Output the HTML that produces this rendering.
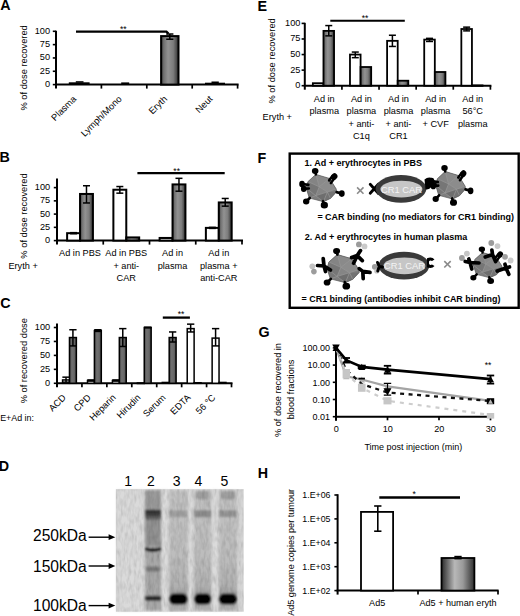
<!DOCTYPE html>
<html><head><meta charset="utf-8"><style>
html,body{margin:0;padding:0;background:#fff;}
svg{display:block;}
text{font-family:"Liberation Sans", sans-serif;}
</style></head><body>
<svg width="520" height="616" viewBox="0 0 520 616">
<defs>
<linearGradient id="cyl" x1="0" x2="1" y1="0" y2="0">
<stop offset="0" stop-color="#363636"/>
<stop offset="0.15" stop-color="#707070"/>
<stop offset="0.4" stop-color="#929292"/>
<stop offset="0.7" stop-color="#7c7c7c"/>
<stop offset="1" stop-color="#303030"/>
</linearGradient>
<linearGradient id="cyl2" x1="0" x2="1" y1="0" y2="0">
<stop offset="0" stop-color="#2a2a2a"/>
<stop offset="0.4" stop-color="#b8b8b8"/>
<stop offset="0.65" stop-color="#9a9a9a"/>
<stop offset="1" stop-color="#2f2f2f"/>
</linearGradient>
<g id="vbody">
<path d="M-5.8,-14.3 L7.6,-10.4 L14.1,-0.4 L14.5,2.2 L8.5,8.6 L1.6,11.7 L-12.3,8.2 L-15.3,-1.3 L-13.6,-7.4 Z" fill="#7e7e7e"/>
<path d="M-5.8,-14.3 L7.6,-10.4 L-2.5,-2.5 Z" fill="#8a8a8a"/>
<path d="M-13.6,-7.4 L-5.8,-14.3 L-2.5,-2.5 Z" fill="#848484"/>
<path d="M7.6,-10.4 L14.1,-0.4 L5.5,2.5 L-2.5,-2.5 Z" fill="#8c8c8c"/>
<path d="M-15.3,-1.3 L-13.6,-7.4 L-2.5,-2.5 L-6,6 L-12.3,8.2 Z" fill="#767676"/>
<path d="M-2.5,-2.5 L5.5,2.5 L-6,6 Z" fill="#858585"/>
<path d="M-6,6 L5.5,2.5 L1.6,11.7 Z" fill="#6e6e6e"/>
<path d="M5.5,2.5 L14.5,2.2 L8.5,8.6 L1.6,11.7 Z" fill="#737373"/>
<path d="M-5.8,-14.3 L-2.5,-2.5 L7.6,-10.4 M-13.6,-7.4 L-2.5,-2.5 L5.5,2.5 L14.1,-0.4 M-2.5,-2.5 L-6,6 L-12.3,8.2 M-6,6 L1.6,11.7 L5.5,2.5 L8.5,8.6 M-6,6 L5.5,2.5 M-15.3,-1.3 L-6,6" stroke="#9a9a9a" stroke-width="0.6" fill="none"/>
<path d="M-5.8,-14.3 L7.6,-10.4 L14.1,-0.4 L14.5,2.2 L8.5,8.6 L1.6,11.7 L-12.3,8.2 L-15.3,-1.3 L-13.6,-7.4 Z" fill="none" stroke="#5e5e5e" stroke-width="0.7"/>
</g>
<g id="knobs" stroke="#000" stroke-width="2.5" stroke-linecap="round" fill="#000">
<g id="k_top"><path d="M-5.8,-14.3 L-6.5,-17.3"/><ellipse cx="-6.5" cy="-17.6" rx="2.0" ry="1.6"/></g>
<g id="k_ur"><path d="M8.9,-6.1 L12.8,-11.4"/><path d="M7.2,-8.6 L10.4,-12.6"/><ellipse cx="12.2" cy="-12.2" rx="2.1" ry="1.7" transform="rotate(-50 12.2 -12.2)"/></g>
<g id="k_l1"><path d="M-13.1,-4.3 L-19.0,-5.2"/><ellipse cx="-19.4" cy="-5.2" rx="1.5" ry="1.9"/></g>
<g id="k_l2"><path d="M-12.7,-0.9 L-17.3,-0.6"/><ellipse cx="-17.7" cy="-0.6" rx="1.5" ry="1.9"/></g>
<g id="k_r"><path d="M14.5,2.6 L19.2,3.9"/><ellipse cx="19.6" cy="4.0" rx="1.6" ry="1.9"/></g>
<g id="k_bl"><path d="M-11.8,8.2 L-15.0,11.3"/><ellipse cx="-15.3" cy="11.6" rx="1.9" ry="1.6"/></g>
<g id="k_b"><path d="M1.1,11.2 L2.3,14.6"/><ellipse cx="2.5" cy="15.0" rx="2.3" ry="1.9"/></g>
</g>
<g id="vir"><use href="#vbody"/><g stroke="#000" stroke-width="2.5" stroke-linecap="round" fill="#000"><use href="#k_top"/><use href="#k_ur"/><use href="#k_l1"/><use href="#k_l2"/><use href="#k_r"/><use href="#k_bl"/><use href="#k_b"/></g></g>
<g id="vir3"><use href="#vbody"/><g stroke="#000" stroke-width="2.5" stroke-linecap="round" fill="#000"><use href="#k_top"/><use href="#k_bl"/><use href="#k_b"/></g></g>
<g id="vir4"><use href="#vbody"/><g stroke="#000" stroke-width="2.5" stroke-linecap="round" fill="#000"><use href="#k_top"/><use href="#k_ur"/><use href="#k_bl"/><use href="#k_b"/></g></g>
<linearGradient id="cyl3" x1="0" x2="1" y1="0" y2="0">
<stop offset="0" stop-color="#444"/>
<stop offset="0.35" stop-color="#707070"/>
<stop offset="0.7" stop-color="#666"/>
<stop offset="1" stop-color="#444"/>
</linearGradient>
<filter id="blur1" x="-20%" y="-20%" width="140%" height="140%"><feGaussianBlur stdDeviation="1.1"/></filter>
<filter id="noise" x="0" y="0" width="100%" height="100%"><feTurbulence type="fractalNoise" baseFrequency="0.35 0.12" numOctaves="2" seed="3"/><feColorMatrix type="matrix" values="0 0 0 0 0  0 0 0 0 0  0 0 0 0 0  0.9 0.9 0.9 0 -1.1"/><feComposite in2="SourceGraphic" operator="in"/></filter>
<filter id="blur2" x="-20%" y="-5%" width="140%" height="110%"><feGaussianBlur stdDeviation="1.8"/></filter>
<linearGradient id="band2" x1="0" x2="0" y1="0" y2="1"><stop offset="0" stop-color="#2e2e2e"/><stop offset="0.45" stop-color="#3c3c3c"/><stop offset="1" stop-color="#7a7a7a"/></linearGradient>
<linearGradient id="smear" x1="0" x2="0" y1="0" y2="1"><stop offset="0" stop-color="#c2c2c2"/><stop offset="0.55" stop-color="#bdbdbd"/><stop offset="0.8" stop-color="#b0b0b0"/><stop offset="0.86" stop-color="#a0a0a0"/><stop offset="1" stop-color="#b4b4b4"/></linearGradient>
</defs>
<rect width="520" height="616" fill="#fff"/>
<text x="0.30" y="10.00" font-size="14.3" text-anchor="start" fill="#000" font-weight="bold">A</text>
<text x="27.10" y="67.90" font-size="9.3" text-anchor="middle" fill="#000" transform="rotate(-90 27.10 67.90)">% of dose recovered</text>
<line x1="52.80" y1="84.60" x2="56.00" y2="84.60" stroke="#000" stroke-width="1.6"/>
<text x="50.00" y="87.00" font-size="9.2" text-anchor="end" fill="#000">0</text>
<line x1="52.80" y1="71.27" x2="56.00" y2="71.27" stroke="#000" stroke-width="1.6"/>
<text x="50.00" y="73.67" font-size="9.2" text-anchor="end" fill="#000">25</text>
<line x1="52.80" y1="57.95" x2="56.00" y2="57.95" stroke="#000" stroke-width="1.6"/>
<text x="50.00" y="60.35" font-size="9.2" text-anchor="end" fill="#000">50</text>
<line x1="52.80" y1="44.62" x2="56.00" y2="44.62" stroke="#000" stroke-width="1.6"/>
<text x="50.00" y="47.02" font-size="9.2" text-anchor="end" fill="#000">75</text>
<line x1="52.80" y1="31.30" x2="56.00" y2="31.30" stroke="#000" stroke-width="1.6"/>
<text x="50.00" y="33.70" font-size="9.2" text-anchor="end" fill="#000">100</text>
<line x1="56.00" y1="30.70" x2="56.00" y2="88.60" stroke="#000" stroke-width="2"/>
<line x1="55.00" y1="84.60" x2="238.60" y2="84.60" stroke="#000" stroke-width="2"/>
<line x1="101.40" y1="84.60" x2="101.40" y2="88.60" stroke="#000" stroke-width="1.7"/>
<line x1="146.80" y1="84.60" x2="146.80" y2="88.60" stroke="#000" stroke-width="1.7"/>
<line x1="192.20" y1="84.60" x2="192.20" y2="88.60" stroke="#000" stroke-width="1.7"/>
<line x1="237.60" y1="84.60" x2="237.60" y2="88.60" stroke="#000" stroke-width="1.7"/>
<rect x="68.80" y="82.30" width="20.80" height="2.30" fill="#000" stroke="none" stroke-width="1"/>
<rect x="75.80" y="81.20" width="7.70" height="1.50" fill="#000" stroke="none" stroke-width="1"/>
<text x="77.00" y="99.50" font-size="9.3" text-anchor="end" fill="#000" transform="rotate(-45 77.00 99.50)">Plasma</text>
<rect x="121.20" y="82.40" width="8.00" height="1.60" fill="#000" stroke="none" stroke-width="1"/>
<text x="122.40" y="99.50" font-size="9.3" text-anchor="end" fill="#000" transform="rotate(-45 122.40 99.50)">Lymph/Mono</text>
<rect x="161.10" y="36.10" width="17.40" height="48.50" fill="url(#cyl)" stroke="#000" stroke-width="2.0"/>
<line x1="169.80" y1="34.02" x2="169.80" y2="39.24" stroke="#000" stroke-width="1.5"/>
<line x1="166.20" y1="34.02" x2="173.40" y2="34.02" stroke="#000" stroke-width="1.5"/>
<line x1="166.20" y1="39.24" x2="173.40" y2="39.24" stroke="#000" stroke-width="1.5"/>
<text x="167.80" y="99.50" font-size="9.3" text-anchor="end" fill="#000" transform="rotate(-45 167.80 99.50)">Eryth</text>
<rect x="205.00" y="82.70" width="20.00" height="1.90" fill="#000" stroke="none" stroke-width="1"/>
<rect x="211.50" y="81.50" width="7.30" height="1.50" fill="#000" stroke="none" stroke-width="1"/>
<text x="213.20" y="99.50" font-size="9.3" text-anchor="end" fill="#000" transform="rotate(-45 213.20 99.50)">Neut</text>
<polyline points="76,31.7 166.5,31.7 168.5,33.6" fill="none" stroke="#000" stroke-width="2.2"/>
<text x="123.30" y="31.70" font-size="8.6" text-anchor="middle" fill="#000">**</text>
<text x="-0.60" y="162.30" font-size="14.3" text-anchor="start" fill="#000" font-weight="bold">B</text>
<text x="27.10" y="216.00" font-size="9.3" text-anchor="middle" fill="#000" transform="rotate(-90 27.10 216.00)">% of dose recovered</text>
<line x1="53.80" y1="240.60" x2="57.00" y2="240.60" stroke="#000" stroke-width="1.6"/>
<text x="50.20" y="243.00" font-size="9.2" text-anchor="end" fill="#000">0</text>
<line x1="53.80" y1="227.35" x2="57.00" y2="227.35" stroke="#000" stroke-width="1.6"/>
<text x="50.20" y="229.75" font-size="9.2" text-anchor="end" fill="#000">25</text>
<line x1="53.80" y1="214.10" x2="57.00" y2="214.10" stroke="#000" stroke-width="1.6"/>
<text x="50.20" y="216.50" font-size="9.2" text-anchor="end" fill="#000">50</text>
<line x1="53.80" y1="200.85" x2="57.00" y2="200.85" stroke="#000" stroke-width="1.6"/>
<text x="50.20" y="203.25" font-size="9.2" text-anchor="end" fill="#000">75</text>
<line x1="53.80" y1="187.60" x2="57.00" y2="187.60" stroke="#000" stroke-width="1.6"/>
<text x="50.20" y="190.00" font-size="9.2" text-anchor="end" fill="#000">100</text>
<line x1="57.00" y1="178.60" x2="57.00" y2="244.60" stroke="#000" stroke-width="2"/>
<line x1="56.00" y1="240.60" x2="243.00" y2="240.60" stroke="#000" stroke-width="2"/>
<line x1="103.25" y1="240.60" x2="103.25" y2="244.60" stroke="#000" stroke-width="1.7"/>
<line x1="149.50" y1="240.60" x2="149.50" y2="244.60" stroke="#000" stroke-width="1.7"/>
<line x1="195.75" y1="240.60" x2="195.75" y2="244.60" stroke="#000" stroke-width="1.7"/>
<line x1="242.00" y1="240.60" x2="242.00" y2="244.60" stroke="#000" stroke-width="1.7"/>
<rect x="67.12" y="233.18" width="12.90" height="7.42" fill="#fff" stroke="#000" stroke-width="2.0"/>
<rect x="80.03" y="193.96" width="12.90" height="46.64" fill="url(#cyl)" stroke="#000" stroke-width="2.0"/>
<line x1="73.58" y1="232.65" x2="73.58" y2="233.71" stroke="#000" stroke-width="1.5"/>
<line x1="70.08" y1="232.65" x2="77.08" y2="232.65" stroke="#000" stroke-width="1.5"/>
<line x1="70.08" y1="233.71" x2="77.08" y2="233.71" stroke="#000" stroke-width="1.5"/>
<line x1="86.48" y1="185.75" x2="86.48" y2="202.97" stroke="#000" stroke-width="1.5"/>
<line x1="82.98" y1="185.75" x2="89.98" y2="185.75" stroke="#000" stroke-width="1.5"/>
<line x1="82.98" y1="202.97" x2="89.98" y2="202.97" stroke="#000" stroke-width="1.5"/>
<text x="80.03" y="256.20" font-size="9.2" text-anchor="middle" fill="#000">Ad in PBS</text>
<rect x="113.38" y="189.72" width="12.90" height="50.88" fill="#fff" stroke="#000" stroke-width="2.0"/>
<rect x="126.28" y="237.42" width="12.90" height="3.18" fill="url(#cyl)" stroke="#000" stroke-width="2.0"/>
<line x1="119.83" y1="186.54" x2="119.83" y2="193.16" stroke="#000" stroke-width="1.5"/>
<line x1="116.33" y1="186.54" x2="123.33" y2="186.54" stroke="#000" stroke-width="1.5"/>
<line x1="116.33" y1="193.16" x2="123.33" y2="193.16" stroke="#000" stroke-width="1.5"/>
<text x="126.28" y="256.20" font-size="9.2" text-anchor="middle" fill="#000">Ad in PBS</text>
<text x="126.28" y="268.55" font-size="9.2" text-anchor="middle" fill="#000">+ anti-</text>
<text x="126.28" y="280.90" font-size="9.2" text-anchor="middle" fill="#000">CAR</text>
<rect x="159.62" y="237.95" width="12.90" height="2.65" fill="#fff" stroke="#000" stroke-width="2.0"/>
<rect x="172.53" y="184.42" width="12.90" height="56.18" fill="url(#cyl)" stroke="#000" stroke-width="2.0"/>
<line x1="161.62" y1="237.95" x2="170.53" y2="237.95" stroke="#000" stroke-width="1.5"/>
<line x1="178.97" y1="178.32" x2="178.97" y2="191.20" stroke="#000" stroke-width="1.5"/>
<line x1="175.47" y1="178.32" x2="182.47" y2="178.32" stroke="#000" stroke-width="1.5"/>
<line x1="175.47" y1="191.20" x2="182.47" y2="191.20" stroke="#000" stroke-width="1.5"/>
<text x="172.53" y="256.20" font-size="9.2" text-anchor="middle" fill="#000">Ad in</text>
<text x="172.53" y="268.55" font-size="9.2" text-anchor="middle" fill="#000">plasma</text>
<rect x="205.88" y="227.88" width="12.90" height="12.72" fill="#fff" stroke="#000" stroke-width="2.0"/>
<rect x="218.78" y="202.44" width="12.90" height="38.16" fill="url(#cyl)" stroke="#000" stroke-width="2.0"/>
<line x1="212.33" y1="227.35" x2="212.33" y2="228.41" stroke="#000" stroke-width="1.5"/>
<line x1="208.83" y1="227.35" x2="215.83" y2="227.35" stroke="#000" stroke-width="1.5"/>
<line x1="208.83" y1="228.41" x2="215.83" y2="228.41" stroke="#000" stroke-width="1.5"/>
<line x1="225.22" y1="198.46" x2="225.22" y2="206.15" stroke="#000" stroke-width="1.5"/>
<line x1="221.72" y1="198.46" x2="228.72" y2="198.46" stroke="#000" stroke-width="1.5"/>
<line x1="221.72" y1="206.15" x2="228.72" y2="206.15" stroke="#000" stroke-width="1.5"/>
<text x="218.78" y="256.20" font-size="9.2" text-anchor="middle" fill="#000">Ad in</text>
<text x="218.78" y="268.55" font-size="9.2" text-anchor="middle" fill="#000">plasma +</text>
<text x="218.78" y="280.90" font-size="9.2" text-anchor="middle" fill="#000">anti-CAR</text>
<text x="8.40" y="268.80" font-size="9.2" text-anchor="start" fill="#000">Eryth +</text>
<line x1="137.40" y1="173.10" x2="224.70" y2="173.10" stroke="#000" stroke-width="2.3"/>
<text x="176.70" y="174.00" font-size="8.6" text-anchor="middle" fill="#000">**</text>
<text x="0.30" y="308.30" font-size="14.3" text-anchor="start" fill="#000" font-weight="bold">C</text>
<text x="27.10" y="360.70" font-size="9.3" text-anchor="middle" fill="#000" transform="rotate(-90 27.10 360.70)">% of recovered dose</text>
<line x1="53.80" y1="383.30" x2="57.00" y2="383.30" stroke="#000" stroke-width="1.6"/>
<text x="50.20" y="385.70" font-size="9.2" text-anchor="end" fill="#000">0</text>
<line x1="53.80" y1="369.35" x2="57.00" y2="369.35" stroke="#000" stroke-width="1.6"/>
<text x="50.20" y="371.75" font-size="9.2" text-anchor="end" fill="#000">25</text>
<line x1="53.80" y1="355.40" x2="57.00" y2="355.40" stroke="#000" stroke-width="1.6"/>
<text x="50.20" y="357.80" font-size="9.2" text-anchor="end" fill="#000">50</text>
<line x1="53.80" y1="341.45" x2="57.00" y2="341.45" stroke="#000" stroke-width="1.6"/>
<text x="50.20" y="343.85" font-size="9.2" text-anchor="end" fill="#000">75</text>
<line x1="53.80" y1="327.50" x2="57.00" y2="327.50" stroke="#000" stroke-width="1.6"/>
<text x="50.20" y="329.90" font-size="9.2" text-anchor="end" fill="#000">100</text>
<line x1="57.00" y1="323.60" x2="57.00" y2="387.30" stroke="#000" stroke-width="2"/>
<line x1="56.00" y1="383.30" x2="232.51" y2="383.30" stroke="#000" stroke-width="2"/>
<line x1="81.93" y1="383.30" x2="81.93" y2="387.30" stroke="#000" stroke-width="1.7"/>
<line x1="106.86" y1="383.30" x2="106.86" y2="387.30" stroke="#000" stroke-width="1.7"/>
<line x1="131.79" y1="383.30" x2="131.79" y2="387.30" stroke="#000" stroke-width="1.7"/>
<line x1="156.72" y1="383.30" x2="156.72" y2="387.30" stroke="#000" stroke-width="1.7"/>
<line x1="181.65" y1="383.30" x2="181.65" y2="387.30" stroke="#000" stroke-width="1.7"/>
<line x1="206.58" y1="383.30" x2="206.58" y2="387.30" stroke="#000" stroke-width="1.7"/>
<line x1="231.51" y1="383.30" x2="231.51" y2="387.30" stroke="#000" stroke-width="1.7"/>
<rect x="62.57" y="379.95" width="6.90" height="3.35" fill="#fff" stroke="#000" stroke-width="1.5"/>
<rect x="69.47" y="337.54" width="6.90" height="45.76" fill="url(#cyl3)" stroke="#000" stroke-width="1.5"/>
<line x1="66.02" y1="377.16" x2="66.02" y2="382.18" stroke="#000" stroke-width="1.5"/>
<line x1="62.37" y1="377.16" x2="69.67" y2="377.16" stroke="#000" stroke-width="1.5"/>
<line x1="62.37" y1="382.18" x2="69.67" y2="382.18" stroke="#000" stroke-width="1.5"/>
<line x1="72.92" y1="329.73" x2="72.92" y2="345.91" stroke="#000" stroke-width="1.5"/>
<line x1="69.27" y1="329.73" x2="76.57" y2="329.73" stroke="#000" stroke-width="1.5"/>
<line x1="69.27" y1="345.91" x2="76.57" y2="345.91" stroke="#000" stroke-width="1.5"/>
<text x="66.47" y="398.20" font-size="9.3" text-anchor="end" fill="#000" transform="rotate(-45 66.47 398.20)">ACD</text>
<rect x="87.50" y="380.51" width="6.90" height="2.79" fill="#fff" stroke="#000" stroke-width="1.5"/>
<rect x="94.40" y="330.57" width="6.90" height="52.73" fill="url(#cyl3)" stroke="#000" stroke-width="1.5"/>
<line x1="90.95" y1="379.95" x2="90.95" y2="381.07" stroke="#000" stroke-width="1.5"/>
<line x1="87.30" y1="379.95" x2="94.60" y2="379.95" stroke="#000" stroke-width="1.5"/>
<line x1="87.30" y1="381.07" x2="94.60" y2="381.07" stroke="#000" stroke-width="1.5"/>
<line x1="97.85" y1="329.73" x2="97.85" y2="331.41" stroke="#000" stroke-width="1.5"/>
<line x1="94.20" y1="329.73" x2="101.50" y2="329.73" stroke="#000" stroke-width="1.5"/>
<line x1="94.20" y1="331.41" x2="101.50" y2="331.41" stroke="#000" stroke-width="1.5"/>
<text x="91.40" y="398.20" font-size="9.3" text-anchor="end" fill="#000" transform="rotate(-45 91.40 398.20)">CPD</text>
<rect x="112.42" y="380.51" width="6.90" height="2.79" fill="#fff" stroke="#000" stroke-width="1.5"/>
<rect x="119.32" y="337.54" width="6.90" height="45.76" fill="url(#cyl3)" stroke="#000" stroke-width="1.5"/>
<line x1="115.87" y1="379.95" x2="115.87" y2="381.07" stroke="#000" stroke-width="1.5"/>
<line x1="112.22" y1="379.95" x2="119.52" y2="379.95" stroke="#000" stroke-width="1.5"/>
<line x1="112.22" y1="381.07" x2="119.52" y2="381.07" stroke="#000" stroke-width="1.5"/>
<line x1="122.77" y1="328.62" x2="122.77" y2="346.47" stroke="#000" stroke-width="1.5"/>
<line x1="119.12" y1="328.62" x2="126.42" y2="328.62" stroke="#000" stroke-width="1.5"/>
<line x1="119.12" y1="346.47" x2="126.42" y2="346.47" stroke="#000" stroke-width="1.5"/>
<text x="116.32" y="398.20" font-size="9.3" text-anchor="end" fill="#000" transform="rotate(-45 116.32 398.20)">Heparin</text>
<rect x="137.35" y="382.97" width="6.90" height="0.50" fill="#fff" stroke="#000" stroke-width="1.5"/>
<rect x="144.25" y="327.50" width="6.90" height="55.80" fill="url(#cyl3)" stroke="#000" stroke-width="1.5"/>
<line x1="147.70" y1="327.22" x2="147.70" y2="327.78" stroke="#000" stroke-width="1.5"/>
<line x1="144.05" y1="327.22" x2="151.35" y2="327.22" stroke="#000" stroke-width="1.5"/>
<line x1="144.05" y1="327.78" x2="151.35" y2="327.78" stroke="#000" stroke-width="1.5"/>
<text x="141.25" y="398.20" font-size="9.3" text-anchor="end" fill="#000" transform="rotate(-45 141.25 398.20)">Hirudin</text>
<rect x="162.28" y="382.46" width="6.90" height="0.84" fill="#fff" stroke="#000" stroke-width="1.5"/>
<rect x="169.19" y="337.54" width="6.90" height="45.76" fill="url(#cyl3)" stroke="#000" stroke-width="1.5"/>
<line x1="172.63" y1="331.96" x2="172.63" y2="342.01" stroke="#000" stroke-width="1.5"/>
<line x1="168.98" y1="331.96" x2="176.28" y2="331.96" stroke="#000" stroke-width="1.5"/>
<line x1="168.98" y1="342.01" x2="176.28" y2="342.01" stroke="#000" stroke-width="1.5"/>
<text x="166.19" y="398.20" font-size="9.3" text-anchor="end" fill="#000" transform="rotate(-45 166.19 398.20)">Serum</text>
<rect x="187.22" y="328.62" width="6.90" height="54.68" fill="#fff" stroke="#000" stroke-width="1.5"/>
<rect x="194.12" y="382.74" width="6.90" height="0.56" fill="url(#cyl3)" stroke="#000" stroke-width="1.5"/>
<line x1="190.67" y1="324.15" x2="190.67" y2="331.96" stroke="#000" stroke-width="1.5"/>
<line x1="187.02" y1="324.15" x2="194.32" y2="324.15" stroke="#000" stroke-width="1.5"/>
<line x1="187.02" y1="331.96" x2="194.32" y2="331.96" stroke="#000" stroke-width="1.5"/>
<text x="191.12" y="398.20" font-size="9.3" text-anchor="end" fill="#000" transform="rotate(-45 191.12 398.20)">EDTA</text>
<rect x="212.14" y="338.10" width="6.90" height="45.20" fill="#fff" stroke="#000" stroke-width="1.5"/>
<rect x="219.04" y="382.46" width="6.90" height="0.84" fill="url(#cyl3)" stroke="#000" stroke-width="1.5"/>
<line x1="215.59" y1="328.62" x2="215.59" y2="345.91" stroke="#000" stroke-width="1.5"/>
<line x1="211.94" y1="328.62" x2="219.25" y2="328.62" stroke="#000" stroke-width="1.5"/>
<line x1="211.94" y1="345.91" x2="219.25" y2="345.91" stroke="#000" stroke-width="1.5"/>
<text x="216.04" y="398.20" font-size="9.3" text-anchor="end" fill="#000" transform="rotate(-45 216.04 398.20)">56 °C</text>
<text x="0.20" y="421.00" font-size="8.9" text-anchor="start" fill="#000">E+Ad in:</text>
<line x1="162.80" y1="317.60" x2="189.90" y2="317.60" stroke="#000" stroke-width="2.3"/>
<text x="181.10" y="317.00" font-size="8.6" text-anchor="middle" fill="#000">**</text>
<text x="-1.20" y="471.40" font-size="14.3" text-anchor="start" fill="#000" font-weight="bold">D</text>
<text x="128.20" y="486.00" font-size="14" text-anchor="middle" fill="#000">1</text>
<text x="150.80" y="486.00" font-size="14" text-anchor="middle" fill="#000">2</text>
<text x="176.60" y="486.00" font-size="14" text-anchor="middle" fill="#000">3</text>
<text x="198.30" y="486.00" font-size="14" text-anchor="middle" fill="#000">4</text>
<text x="224.30" y="486.00" font-size="14" text-anchor="middle" fill="#000">5</text>
<g>
<rect x="115.90" y="489.20" width="127.80" height="122.50" fill="#d4d4d4" stroke="none" stroke-width="1"/>
<g filter="url(#blur2)">
<rect x="117.00" y="490.00" width="27.00" height="121.00" fill="#dadada" stroke="none" stroke-width="1"/>
<rect x="161.50" y="490.00" width="6.50" height="121.00" fill="#dbdbdb" stroke="none" stroke-width="1"/>
<rect x="188.50" y="490.00" width="4.50" height="121.00" fill="#dbdbdb" stroke="none" stroke-width="1"/>
<rect x="212.20" y="490.00" width="5.80" height="121.00" fill="#dbdbdb" stroke="none" stroke-width="1"/>
</g>
<g filter="url(#blur1)">
<rect x="145.30" y="490.50" width="15.60" height="120.00" fill="#a8a8a8" stroke="none" stroke-width="1"/>
<rect x="145.30" y="490.50" width="15.60" height="18.00" fill="#9a9a9a" stroke="none" stroke-width="1"/>
<rect x="145.30" y="509.60" width="15.60" height="10.50" fill="url(#band2)" stroke="none" stroke-width="1"/>
<rect x="145.30" y="520.00" width="15.60" height="26.00" fill="#929292" stroke="none" stroke-width="1"/>
<path d="M145.3,547.0 Q153,549.5 160.9,547.0 L160.9,550.8 Q153,553 145.3,550.8 Z" fill="#141414"/>
<rect x="145.60" y="566.60" width="15.00" height="4.80" fill="#7c7c7c" stroke="none" stroke-width="1"/>
<rect x="145.30" y="595.80" width="15.60" height="5.00" fill="#2c2c2c" stroke="none" stroke-width="1"/>
<rect x="169.20" y="490.50" width="18.40" height="120.00" fill="url(#smear)" stroke="none" stroke-width="1"/>
<rect x="169.20" y="510.20" width="18.40" height="7.00" fill="#a0a0a0" stroke="none" stroke-width="1"/>
<rect x="169.40" y="593.60" width="18.00" height="11.00" fill="#060606" stroke="none" stroke-width="1" rx="4.5"/>
<rect x="194.20" y="490.50" width="17.00" height="120.00" fill="url(#smear)" stroke="none" stroke-width="1"/>
<rect x="196.20" y="491.00" width="13.00" height="8.50" fill="#9e9e9e" stroke="none" stroke-width="1" rx="3"/>
<rect x="194.20" y="510.20" width="17.00" height="7.00" fill="#8c8c8c" stroke="none" stroke-width="1"/>
<rect x="194.40" y="593.60" width="16.60" height="11.00" fill="#060606" stroke="none" stroke-width="1" rx="4.5"/>
<rect x="219.00" y="490.50" width="18.00" height="120.00" fill="url(#smear)" stroke="none" stroke-width="1"/>
<rect x="221.00" y="491.00" width="14.00" height="8.50" fill="#9e9e9e" stroke="none" stroke-width="1" rx="3"/>
<rect x="219.00" y="510.20" width="18.00" height="7.00" fill="#979797" stroke="none" stroke-width="1"/>
<rect x="219.20" y="593.60" width="17.60" height="11.00" fill="#060606" stroke="none" stroke-width="1" rx="4.5"/>
</g>
<rect x="115.9" y="489.2" width="127.8" height="122.5" filter="url(#noise)" opacity="0.13"/>
</g>
<text x="33.00" y="541.40" font-size="15.6" text-anchor="start" fill="#000">250kDa</text>
<line x1="88.60" y1="537.20" x2="110.00" y2="537.20" stroke="#000" stroke-width="1.4"/>
<path d="M108.6,534.30 L115.3,537.20 L108.6,540.10 Z" fill="#000"/>
<text x="33.00" y="571.60" font-size="15.6" text-anchor="start" fill="#000">150kDa</text>
<line x1="88.60" y1="566.00" x2="110.00" y2="566.00" stroke="#000" stroke-width="1.4"/>
<path d="M108.6,563.10 L115.3,566.00 L108.6,568.90 Z" fill="#000"/>
<text x="33.00" y="610.60" font-size="15.6" text-anchor="start" fill="#000">100kDa</text>
<line x1="88.60" y1="605.60" x2="110.00" y2="605.60" stroke="#000" stroke-width="1.4"/>
<path d="M108.6,602.70 L115.3,605.60 L108.6,608.50 Z" fill="#000"/>
<text x="257.40" y="10.90" font-size="14.3" text-anchor="start" fill="#000" font-weight="bold">E</text>
<text x="275.20" y="60.90" font-size="9.3" text-anchor="middle" fill="#000" transform="rotate(-90 275.20 60.90)">% of dose recovered</text>
<line x1="301.60" y1="85.70" x2="304.80" y2="85.70" stroke="#000" stroke-width="1.6"/>
<text x="300.40" y="88.10" font-size="9.2" text-anchor="end" fill="#000">0</text>
<line x1="301.60" y1="70.12" x2="304.80" y2="70.12" stroke="#000" stroke-width="1.6"/>
<text x="300.40" y="72.53" font-size="9.2" text-anchor="end" fill="#000">25</text>
<line x1="301.60" y1="54.55" x2="304.80" y2="54.55" stroke="#000" stroke-width="1.6"/>
<text x="300.40" y="56.95" font-size="9.2" text-anchor="end" fill="#000">50</text>
<line x1="301.60" y1="38.98" x2="304.80" y2="38.98" stroke="#000" stroke-width="1.6"/>
<text x="300.40" y="41.38" font-size="9.2" text-anchor="end" fill="#000">75</text>
<line x1="301.60" y1="23.40" x2="304.80" y2="23.40" stroke="#000" stroke-width="1.6"/>
<text x="300.40" y="25.80" font-size="9.2" text-anchor="end" fill="#000">100</text>
<line x1="304.80" y1="22.80" x2="304.80" y2="89.70" stroke="#000" stroke-width="2"/>
<line x1="303.80" y1="85.70" x2="491.40" y2="85.70" stroke="#000" stroke-width="2"/>
<line x1="341.92" y1="85.70" x2="341.92" y2="89.70" stroke="#000" stroke-width="1.7"/>
<line x1="379.04" y1="85.70" x2="379.04" y2="89.70" stroke="#000" stroke-width="1.7"/>
<line x1="416.16" y1="85.70" x2="416.16" y2="89.70" stroke="#000" stroke-width="1.7"/>
<line x1="453.28" y1="85.70" x2="453.28" y2="89.70" stroke="#000" stroke-width="1.7"/>
<line x1="490.40" y1="85.70" x2="490.40" y2="89.70" stroke="#000" stroke-width="1.7"/>
<rect x="312.86" y="83.21" width="10.60" height="2.49" fill="#fff" stroke="#000" stroke-width="1.8"/>
<rect x="323.46" y="30.88" width="10.60" height="54.82" fill="url(#cyl)" stroke="#000" stroke-width="1.8"/>
<line x1="328.76" y1="25.58" x2="328.76" y2="35.86" stroke="#000" stroke-width="1.5"/>
<line x1="325.26" y1="25.58" x2="332.26" y2="25.58" stroke="#000" stroke-width="1.5"/>
<line x1="325.26" y1="35.86" x2="332.26" y2="35.86" stroke="#000" stroke-width="1.5"/>
<text x="324.26" y="101.90" font-size="9.2" text-anchor="middle" fill="#000">Ad in</text>
<text x="324.26" y="114.30" font-size="9.2" text-anchor="middle" fill="#000">plasma</text>
<rect x="349.98" y="54.55" width="10.60" height="31.15" fill="#fff" stroke="#000" stroke-width="1.8"/>
<rect x="360.58" y="67.01" width="10.60" height="18.69" fill="url(#cyl)" stroke="#000" stroke-width="1.8"/>
<line x1="355.28" y1="52.06" x2="355.28" y2="57.67" stroke="#000" stroke-width="1.5"/>
<line x1="351.78" y1="52.06" x2="358.78" y2="52.06" stroke="#000" stroke-width="1.5"/>
<line x1="351.78" y1="57.67" x2="358.78" y2="57.67" stroke="#000" stroke-width="1.5"/>
<text x="361.38" y="101.90" font-size="9.2" text-anchor="middle" fill="#000">Ad in</text>
<text x="361.38" y="114.30" font-size="9.2" text-anchor="middle" fill="#000">plasma</text>
<text x="361.38" y="126.70" font-size="9.2" text-anchor="middle" fill="#000">+ anti-</text>
<text x="361.38" y="139.10" font-size="9.2" text-anchor="middle" fill="#000">C1q</text>
<rect x="387.10" y="40.84" width="10.60" height="44.86" fill="#fff" stroke="#000" stroke-width="1.8"/>
<rect x="397.70" y="80.72" width="10.60" height="4.98" fill="url(#cyl)" stroke="#000" stroke-width="1.8"/>
<line x1="392.40" y1="35.24" x2="392.40" y2="46.45" stroke="#000" stroke-width="1.5"/>
<line x1="388.90" y1="35.24" x2="395.90" y2="35.24" stroke="#000" stroke-width="1.5"/>
<line x1="388.90" y1="46.45" x2="395.90" y2="46.45" stroke="#000" stroke-width="1.5"/>
<text x="398.50" y="101.90" font-size="9.2" text-anchor="middle" fill="#000">Ad in</text>
<text x="398.50" y="114.30" font-size="9.2" text-anchor="middle" fill="#000">plasma</text>
<text x="398.50" y="126.70" font-size="9.2" text-anchor="middle" fill="#000">+ anti-</text>
<text x="398.50" y="139.10" font-size="9.2" text-anchor="middle" fill="#000">CR1</text>
<rect x="424.22" y="39.60" width="10.60" height="46.10" fill="#fff" stroke="#000" stroke-width="1.8"/>
<rect x="434.82" y="71.99" width="10.60" height="13.71" fill="url(#cyl)" stroke="#000" stroke-width="1.8"/>
<line x1="429.52" y1="38.35" x2="429.52" y2="41.47" stroke="#000" stroke-width="1.5"/>
<line x1="426.02" y1="38.35" x2="433.02" y2="38.35" stroke="#000" stroke-width="1.5"/>
<line x1="426.02" y1="41.47" x2="433.02" y2="41.47" stroke="#000" stroke-width="1.5"/>
<text x="435.62" y="101.90" font-size="9.2" text-anchor="middle" fill="#000">Ad in</text>
<text x="435.62" y="114.30" font-size="9.2" text-anchor="middle" fill="#000">plasma</text>
<text x="435.62" y="126.70" font-size="9.2" text-anchor="middle" fill="#000">+ CVF</text>
<rect x="461.34" y="29.01" width="10.60" height="56.69" fill="#fff" stroke="#000" stroke-width="1.8"/>
<rect x="471.94" y="85.39" width="10.60" height="0.50" fill="url(#cyl)" stroke="#000" stroke-width="1.8"/>
<line x1="466.64" y1="27.14" x2="466.64" y2="30.88" stroke="#000" stroke-width="1.5"/>
<line x1="463.14" y1="27.14" x2="470.14" y2="27.14" stroke="#000" stroke-width="1.5"/>
<line x1="463.14" y1="30.88" x2="470.14" y2="30.88" stroke="#000" stroke-width="1.5"/>
<text x="472.74" y="101.90" font-size="9.2" text-anchor="middle" fill="#000">Ad in</text>
<text x="472.74" y="114.30" font-size="9.2" text-anchor="middle" fill="#000">56°C</text>
<text x="472.74" y="126.70" font-size="9.2" text-anchor="middle" fill="#000">plasma</text>
<text x="262.60" y="120.20" font-size="9.2" text-anchor="start" fill="#000">Eryth +</text>
<line x1="330.30" y1="20.70" x2="404.80" y2="20.70" stroke="#000" stroke-width="2.1"/>
<text x="365.00" y="21.30" font-size="8.6" text-anchor="middle" fill="#000">**</text>
<text x="258.60" y="337.00" font-size="14.3" text-anchor="start" fill="#000" font-weight="bold">G</text>
<text x="281.30" y="390.00" font-size="9.2" text-anchor="middle" fill="#000" transform="rotate(-90 281.30 390.00)">% of dose recovered in</text>
<text x="293.60" y="389.40" font-size="9.2" text-anchor="middle" fill="#000" transform="rotate(-90 293.60 389.40)">blood fractions</text>
<line x1="332.80" y1="347.90" x2="336.00" y2="347.90" stroke="#000" stroke-width="1.6"/>
<text x="330.00" y="351.10" font-size="9.0" text-anchor="end" fill="#000">100.00</text>
<line x1="332.80" y1="365.10" x2="336.00" y2="365.10" stroke="#000" stroke-width="1.6"/>
<text x="330.00" y="368.30" font-size="9.0" text-anchor="end" fill="#000">10.00</text>
<line x1="332.80" y1="382.30" x2="336.00" y2="382.30" stroke="#000" stroke-width="1.6"/>
<text x="330.00" y="385.50" font-size="9.0" text-anchor="end" fill="#000">1.00</text>
<line x1="332.80" y1="399.50" x2="336.00" y2="399.50" stroke="#000" stroke-width="1.6"/>
<text x="330.00" y="402.70" font-size="9.0" text-anchor="end" fill="#000">0.10</text>
<line x1="332.80" y1="416.70" x2="336.00" y2="416.70" stroke="#000" stroke-width="1.6"/>
<text x="330.00" y="419.90" font-size="9.0" text-anchor="end" fill="#000">0.01</text>
<line x1="336.00" y1="347.10" x2="336.00" y2="420.70" stroke="#000" stroke-width="2"/>
<line x1="335.00" y1="416.70" x2="491.50" y2="416.70" stroke="#000" stroke-width="2"/>
<line x1="336.00" y1="416.70" x2="336.00" y2="420.30" stroke="#000" stroke-width="1.7"/>
<text x="336.30" y="432.00" font-size="9.1" text-anchor="middle" fill="#000">0</text>
<line x1="387.50" y1="416.70" x2="387.50" y2="420.30" stroke="#000" stroke-width="1.7"/>
<text x="387.80" y="432.00" font-size="9.1" text-anchor="middle" fill="#000">10</text>
<line x1="439.00" y1="416.70" x2="439.00" y2="420.30" stroke="#000" stroke-width="1.7"/>
<text x="439.30" y="432.00" font-size="9.1" text-anchor="middle" fill="#000">20</text>
<line x1="490.50" y1="416.70" x2="490.50" y2="420.30" stroke="#000" stroke-width="1.7"/>
<text x="490.80" y="432.00" font-size="9.1" text-anchor="middle" fill="#000">30</text>
<text x="413.30" y="449.90" font-size="9.0" text-anchor="middle" fill="#000">Time post injection (min)</text>
<polyline points="336.00,347.90 346.30,376.30 361.75,379.50 387.50,386.40 490.50,400.80" fill="none" stroke="#a4a4a4" stroke-width="2.2"/>
<path d="M343.05,379.23 L349.55,379.23 L346.30,373.38 Z" fill="#b4b4b4"/>
<path d="M358.50,382.43 L365.00,382.43 L361.75,376.57 Z" fill="#b4b4b4"/>
<path d="M384.25,389.32 L390.75,389.32 L387.50,383.47 Z" fill="#b4b4b4"/>
<polyline points="336.00,347.90 346.30,370.00 361.75,384.00 387.50,392.50 490.50,401.00" fill="none" stroke="#111" stroke-width="2.3" stroke-dasharray="4,4.5"/>
<path d="M358.55,378.6 L364.95,378.6" stroke="#000" stroke-width="1.8"/>
<path d="M383.80,383.4 L391.20,383.4 M383.80,395.2 L391.20,395.2 M387.50,383.4 L387.50,395.2" stroke="#000" stroke-width="1.2"/>
<path d="M383.50,388.20 L391.50,388.20 L387.50,395.40 Z" fill="#000"/>
<rect x="486.80" y="398.20" width="7.40" height="6.00" fill="#000" stroke="none" stroke-width="1"/>
<path d="M488.00,403.65 L493.00,403.65 L490.50,399.15 Z" fill="#b8b8b8"/>
<polyline points="336.00,347.90 346.30,373.70 361.75,387.80 387.50,400.80 490.50,415.00" fill="none" stroke="#cdcdcd" stroke-width="2.2" stroke-dasharray="4,5"/>
<rect x="342.60" y="369.00" width="7.40" height="9.40" fill="#c6c6c6" stroke="none" stroke-width="1"/>
<rect x="357.95" y="383.70" width="7.60" height="8.10" fill="#c6c6c6" stroke="none" stroke-width="1"/>
<rect x="383.50" y="397.20" width="8.00" height="7.20" fill="#c6c6c6" stroke="none" stroke-width="1"/>
<rect x="486.80" y="413.00" width="7.40" height="5.60" fill="#c6c6c6" stroke="none" stroke-width="1"/>
<polyline points="336.00,347.90 346.30,360.20 361.75,366.90 387.50,369.60 490.50,379.10" fill="none" stroke="#000" stroke-width="2.6" stroke-linejoin="round"/>
<path d="M332.50,351.05 L339.50,351.05 L336.00,344.75 Z" fill="#000"/>
<path d="M342.80,363.35 L349.80,363.35 L346.30,357.05 Z" fill="#000"/>
<path d="M358.25,370.05 L365.25,370.05 L361.75,363.75 Z" fill="#000"/>
<path d="M384.00,372.75 L391.00,372.75 L387.50,366.45 Z" fill="#000"/>
<path d="M487.00,382.25 L494.00,382.25 L490.50,375.95 Z" fill="#000"/>
<rect x="357.75" y="364.70" width="8.00" height="4.40" fill="#000" stroke="none" stroke-width="1"/>
<line x1="346.30" y1="358.00" x2="346.30" y2="362.40" stroke="#000" stroke-width="1.8"/>
<line x1="342.60" y1="358.00" x2="350.00" y2="358.00" stroke="#000" stroke-width="1.8"/>
<line x1="342.60" y1="362.40" x2="350.00" y2="362.40" stroke="#000" stroke-width="1.8"/>
<line x1="387.50" y1="365.80" x2="387.50" y2="373.60" stroke="#000" stroke-width="1.8"/>
<line x1="383.80" y1="365.80" x2="391.20" y2="365.80" stroke="#000" stroke-width="1.8"/>
<line x1="383.80" y1="373.60" x2="391.20" y2="373.60" stroke="#000" stroke-width="1.8"/>
<line x1="490.50" y1="375.50" x2="490.50" y2="383.60" stroke="#000" stroke-width="1.8"/>
<line x1="486.80" y1="375.50" x2="494.20" y2="375.50" stroke="#000" stroke-width="1.8"/>
<line x1="486.80" y1="383.60" x2="494.20" y2="383.60" stroke="#000" stroke-width="1.8"/>
<path d="M332.25,344.52 L339.75,344.52 L336.00,351.27 Z" fill="#000"/>
<text x="488.00" y="367.50" font-size="8.6" text-anchor="middle" fill="#000">**</text>
<text x="257.60" y="162.90" font-size="14.3" text-anchor="start" fill="#000" font-weight="bold">F</text>
<rect x="289.70" y="153.60" width="229.00" height="154.20" fill="none" stroke="#000" stroke-width="2.4"/>
<text x="304.60" y="165.80" font-size="9" text-anchor="start" fill="#000" font-weight="bold" textLength="117.5" lengthAdjust="spacingAndGlyphs">1. Ad + erythrocytes in PBS</text>
<text x="317.40" y="220.20" font-size="9" text-anchor="start" fill="#000" font-weight="bold" textLength="196.5" lengthAdjust="spacingAndGlyphs">= CAR binding (no mediators for CR1 binding)</text>
<text x="304.80" y="240.00" font-size="9" text-anchor="start" fill="#000" font-weight="bold" textLength="162.6" lengthAdjust="spacingAndGlyphs">2. Ad + erythrocytes in human plasma</text>
<text x="301.60" y="301.70" font-size="9" text-anchor="start" fill="#000" font-weight="bold" textLength="198.8" lengthAdjust="spacingAndGlyphs">= CR1 binding (antibodies inhibit CAR binding)</text>
<use href="#vir" transform="translate(321.8,189.4) scale(1.02,1.05)"/>
<use href="#vir" transform="translate(451.0,186.6) scale(1.0,1.06)"/>
<use href="#vir3" transform="translate(343.6,270.0) scale(1.08)"/>
<use href="#vir4" transform="translate(488.2,266.4) scale(0.97)"/>
<path d="M357.1,187.4 L363.5,193.79999999999998 M357.1,193.79999999999998 L363.5,187.4" stroke="#8a8a8a" stroke-width="1.6"/>
<path d="M444.3,261.1 L450.7,267.5 M444.3,267.5 L450.7,261.1" stroke="#8a8a8a" stroke-width="1.6"/>
<path d="M370.2,184.2 L378.5,193.5 M370.2,193.2 L378.5,184.0" stroke="#000" stroke-width="2.8" fill="none" stroke-linecap="round"/>
<ellipse cx="401.0" cy="188.8" rx="25.4" ry="13.9" fill="#3a3a3a"/>
<ellipse cx="401.4" cy="189.10000000000002" rx="21.0" ry="8.3" fill="#c6c6c6"/>
<text x="401.40" y="192.50" font-size="9.8" text-anchor="middle" fill="#f4f4f4" textLength="41" lengthAdjust="spacingAndGlyphs">CR1 CAR</text>
<ellipse cx="404.0" cy="265.6" rx="25.4" ry="13.9" fill="#3a3a3a"/>
<ellipse cx="404.4" cy="265.90000000000003" rx="21.0" ry="8.3" fill="#c6c6c6"/>
<text x="404.40" y="269.30" font-size="9.8" text-anchor="middle" fill="#f4f4f4" textLength="41" lengthAdjust="spacingAndGlyphs">CR1 CAR</text>
<path d="M424.5,179.5 Q428,176.2 432.5,178.2 L433.5,181.5 L437,183.8 L436.5,186.2 L431.5,186.5 Q429.5,190 425.5,189.5 Z" fill="#000"/>
<path d="M427.0,258.3 Q432.0,256.3 434.5,259.6 L432.0,261.0 Q430.0,259.8 429.0,261.6 L429.0,264.0 Q430.0,265.8 432.0,264.6 L434.5,266.0 Q432.0,269.3 427.0,267.3 Z" fill="#000"/>
<circle cx="312.3" cy="266.3" r="2.9" fill="#c2c2c2"/>
<circle cx="313.9" cy="271.6" r="2.8" fill="#9c9c9c"/>
<path d="M324,266 L317.5,265.5 M324,266 L330.5,270 M324,266 L323.2,258.5 M324,266 L325.5,271.5" stroke="#000" stroke-width="3.7" fill="none" stroke-linecap="round" stroke-linejoin="round"/>
<circle cx="358.9" cy="244.4" r="2.9" fill="#9c9c9c"/>
<circle cx="364.5" cy="246.4" r="2.9" fill="#cacaca"/>
<path d="M357.2,255.6 L351.6,257.6 M357.2,255.6 L360.5,250.6 M357.2,255.6 L362.3,260.6 M357.2,255.6 L353.6,263.2" stroke="#000" stroke-width="3.7" fill="none" stroke-linecap="round" stroke-linejoin="round"/>
<path d="M362.8,271.4 L359.2,268.6 M362.8,271.4 L370.0,272.4 M362.8,271.4 L363.2,278.6" stroke="#000" stroke-width="3.7" fill="none" stroke-linecap="round" stroke-linejoin="round"/>
<circle cx="374.8" cy="266.8" r="2.9" fill="#9c9c9c"/>
<circle cx="376.8" cy="271.0" r="2.6" fill="#c4c4c4"/>
<path d="M379.2,266.5 L377.5,262.5 M379.2,266.5 L382.5,267.0 M379.2,266.5 L377.8,271.0" stroke="#000" stroke-width="3.0" fill="none" stroke-linecap="round" stroke-linejoin="round"/>
<circle cx="461.9" cy="258.0" r="2.9" fill="#9c9c9c"/>
<circle cx="466.9" cy="253.6" r="2.9" fill="#c6c6c6"/>
<path d="M470,262.5 L465.2,261.5 M470,262.5 L479,263 M470,262.5 L468.8,259 M470,262.5 L471.8,269" stroke="#000" stroke-width="3.7" fill="none" stroke-linecap="round" stroke-linejoin="round"/>
<circle cx="491.3" cy="243.0" r="2.9" fill="#9c9c9c"/>
<circle cx="497.5" cy="246.1" r="2.9" fill="#c8c8c8"/>
<path d="M492.5,254.5 L485.2,257 M492.5,254.5 L491.9,250 M492.5,254.5 L495.6,261.5" stroke="#000" stroke-width="3.7" fill="none" stroke-linecap="round" stroke-linejoin="round"/>
<circle cx="505.0" cy="256.8" r="2.9" fill="#a0a0a0"/>
<circle cx="510.6" cy="260.5" r="2.9" fill="#cacaca"/>
<path d="M506,268 L497.2,271 M506,268 L505,264.2 M506,268 L508.8,274.3 M506,268 L509.5,267" stroke="#000" stroke-width="3.7" fill="none" stroke-linecap="round" stroke-linejoin="round"/>
<text x="257.80" y="478.20" font-size="14.3" text-anchor="start" fill="#000" font-weight="bold">H</text>
<text x="293.80" y="552.40" font-size="9.1" text-anchor="middle" fill="#000" transform="rotate(-90 293.80 552.40)">Ad5 genome copies per tumour</text>
<line x1="334.40" y1="495.00" x2="337.60" y2="495.00" stroke="#000" stroke-width="1.6"/>
<text x="330.50" y="498.20" font-size="8.8" text-anchor="end" fill="#000">1.E+06</text>
<line x1="334.40" y1="518.90" x2="337.60" y2="518.90" stroke="#000" stroke-width="1.6"/>
<text x="330.50" y="522.10" font-size="8.8" text-anchor="end" fill="#000">1.E+05</text>
<line x1="334.40" y1="542.80" x2="337.60" y2="542.80" stroke="#000" stroke-width="1.6"/>
<text x="330.50" y="546.00" font-size="8.8" text-anchor="end" fill="#000">1.E+04</text>
<line x1="334.40" y1="566.70" x2="337.60" y2="566.70" stroke="#000" stroke-width="1.6"/>
<text x="330.50" y="569.90" font-size="8.8" text-anchor="end" fill="#000">1.E+03</text>
<line x1="334.40" y1="590.60" x2="337.60" y2="590.60" stroke="#000" stroke-width="1.6"/>
<text x="330.50" y="593.80" font-size="8.8" text-anchor="end" fill="#000">1.E+02</text>
<line x1="337.60" y1="494.20" x2="337.60" y2="594.60" stroke="#000" stroke-width="2"/>
<line x1="336.60" y1="590.60" x2="498.60" y2="590.60" stroke="#000" stroke-width="2"/>
<line x1="418.00" y1="590.60" x2="418.00" y2="594.60" stroke="#000" stroke-width="1.7"/>
<line x1="498.00" y1="590.60" x2="498.00" y2="594.60" stroke="#000" stroke-width="1.7"/>
<rect x="361.00" y="511.90" width="32.10" height="78.70" fill="#fff" stroke="#000" stroke-width="1.8"/>
<line x1="377.80" y1="506.00" x2="377.80" y2="531.20" stroke="#000" stroke-width="1.6"/>
<line x1="374.15" y1="506.00" x2="381.45" y2="506.00" stroke="#000" stroke-width="1.6"/>
<line x1="374.15" y1="531.20" x2="381.45" y2="531.20" stroke="#000" stroke-width="1.6"/>
<rect x="441.50" y="558.00" width="32.90" height="32.60" fill="url(#cyl2)" stroke="#000" stroke-width="1.8"/>
<line x1="458.00" y1="556.60" x2="458.00" y2="558.60" stroke="#000" stroke-width="1.6"/>
<line x1="454.35" y1="556.60" x2="461.65" y2="556.60" stroke="#000" stroke-width="1.6"/>
<line x1="454.35" y1="558.60" x2="461.65" y2="558.60" stroke="#000" stroke-width="1.6"/>
<line x1="379.30" y1="497.40" x2="460.00" y2="497.40" stroke="#000" stroke-width="2.5"/>
<text x="414.10" y="496.50" font-size="8.6" text-anchor="middle" fill="#000">*</text>
<text x="377.20" y="605.90" font-size="9.1" text-anchor="middle" fill="#000">Ad5</text>
<text x="458.00" y="605.60" font-size="9.1" text-anchor="middle" fill="#000">Ad5 + human eryth</text>
</svg>
</body></html>
